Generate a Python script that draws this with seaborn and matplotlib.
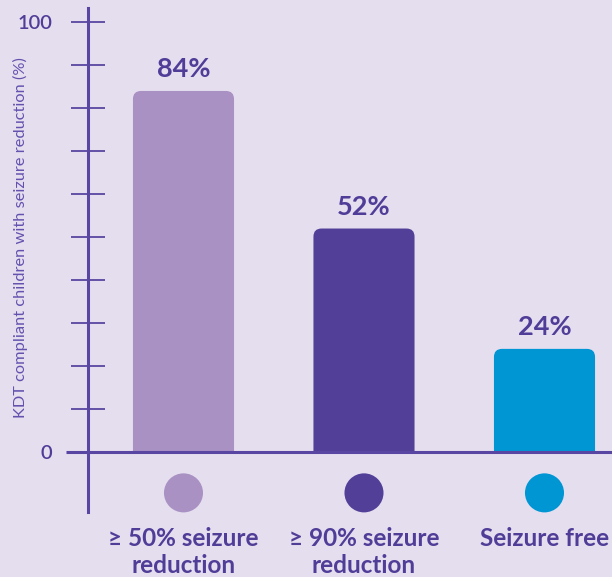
import matplotlib
matplotlib.use("Agg")
import matplotlib.pyplot as plt
from matplotlib.patches import FancyBboxPatch, Rectangle
import seaborn as sns
import pandas as pd

# Data
categories = ["≥ 50% seizure\nreduction", "≥ 90% seizure\nreduction", "Seizure free"]
values = [84, 52, 24]
bar_colors = ["#A991C4", "#523F98", "#0095D3"]
y_ticks = list(range(0, 101, 10))
y_tick_labels = ["0"] + [""] * 9 + ["100"]
y_label = "KDT compliant children with seizure reduction (%)"

BG = "#E5DEEF"
INK = "#4F3D98"
AXIS = "#5946A2"

sns.set_theme(style="white")
plt.rcParams["font.family"] = ["Lato", "DejaVu Sans"]

fig = plt.figure(figsize=(6.12, 5.77), dpi=100, facecolor=BG)
ax = fig.add_axes([88 / 612, 65 / 577, 524 / 612, 504 / 577])
ax.set_facecolor(BG)

df = pd.DataFrame({"category": categories, "value": values})
sns.barplot(data=df, x="category", y="value", hue="category",
            palette=bar_colors, width=0.56, legend=False, ax=ax,
            saturation=1)

ax.set_xlim(-0.529, 2.374)
ax.set_ylim(-13.95, 103.3)

# value labels above each bar
for cont, v in zip(ax.containers, values):
    ax.bar_label(cont, labels=[f"{v}%"], padding=7, color=INK,
                 fontsize=19.5, fontweight="bold")

# replace plain bars with top-rounded bars
for cont in ax.containers:
    for p in cont.patches:
        x0, w, h = p.get_x(), p.get_width(), p.get_height()
        p.set_visible(False)
        r = 0.045
        fb = FancyBboxPatch((x0, -5), w, h + 5,
                            boxstyle=f"round,pad=0,rounding_size={r}",
                            mutation_aspect=42, facecolor=p.get_facecolor(),
                            edgecolor="none", zorder=2)
        ax.add_patch(fb)
        fb.set_clip_path(Rectangle((x0 - 0.1, 0), w + 0.2, 200,
                                   transform=ax.transData))

# colour dots under the bars
ax.scatter(range(len(values)), [-9.5] * len(values), s=790,
           c=bar_colors, linewidths=0, zorder=3, clip_on=False)

# baseline at zero extending past the y axis
ax.plot([-0.651, 2.374], [0, 0], color=AXIS, lw=2.2, clip_on=False,
        zorder=4, solid_capstyle="butt")

for side in ["top", "right", "bottom"]:
    ax.spines[side].set_visible(False)
ax.spines["left"].set_color(AXIS)
ax.spines["left"].set_linewidth(2.2)
ax.spines["left"].set_zorder(5)

ax.set_yticks(y_ticks)
ax.set_yticklabels(y_tick_labels)
ax.tick_params(axis="y", direction="inout", length=24.5, width=1.3,
               color=AXIS, pad=13.5, labelsize=14.5, labelcolor=INK, left=True)
for t in ax.get_yticklabels():
    t.set_fontweight("semibold")

ax.tick_params(axis="x", length=0, pad=11, labelsize=17.5, labelcolor=INK)
for t in ax.get_xticklabels():
    t.set_fontweight("bold")
    t.set_linespacing(1.22)
ax.set_xlabel("")
ax.set_ylabel("")

fig.text(20 / 612, 1 - 237.5 / 577, y_label, rotation=90, ha="center",
         va="center", fontsize=11.8, color="#6352AE")

fig.savefig("out.png", dpi=100, facecolor=BG)
